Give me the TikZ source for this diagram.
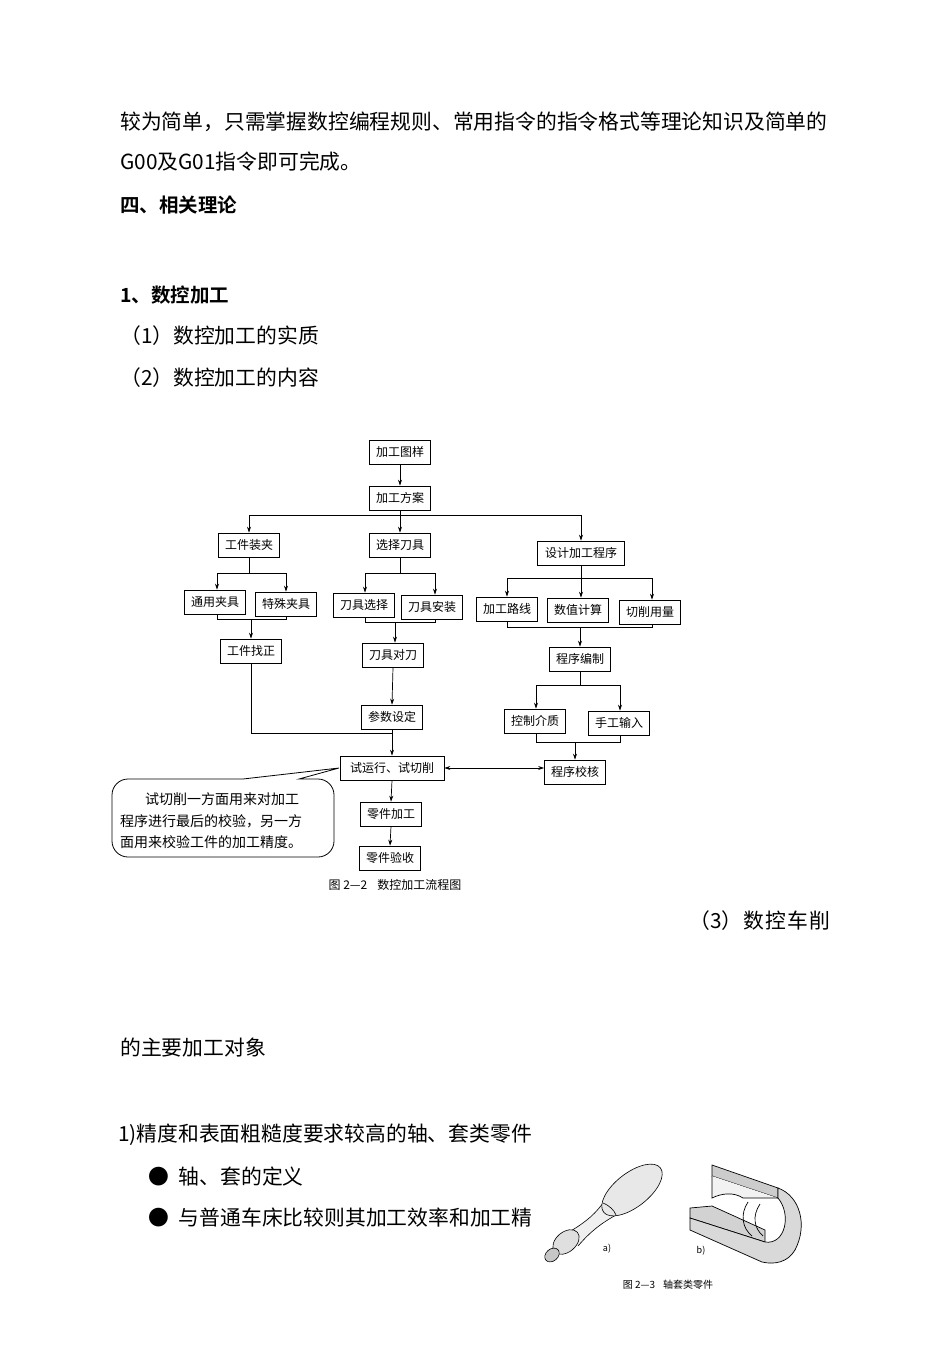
\documentclass[tikz,border=0pt]{standalone}
\usepackage{fontspec}
\setmainfont{Noto Sans CJK SC}
\newfontfamily\cjk{Noto Sans CJK SC}
\newfontfamily\cjkb{Noto Sans CJK SC Bold}
\usetikzlibrary{arrows.meta}
\begin{document}
\begin{tikzpicture}[x=1pt,y=-1pt,
  box/.style={draw,line width=0.7pt,minimum height=24pt,minimum width=61pt,inner sep=1pt,font=\cjk\fontsize{12}{12}\selectfont},
  ln/.style={line width=0.7pt},
  ar/.style={line width=0.7pt,-{Stealth[length=6pt,width=4pt]}},
  body/.style={anchor=west,inner sep=0pt,font=\cjk\fontsize{20.8}{21}\selectfont},
  head/.style={anchor=west,inner sep=0pt,font=\cjkb\fontsize{19.5}{20}\selectfont}]
\useasboundingbox (0,0) rectangle (950,1346);
\fill[white] (0,0) rectangle (950,1346);
% body text
\node[body] (l1) at (120,122) {较为简单，只需掌握数控编程规则、常用指令的指令格式等理论知识及简单的};
\node[body] (l2) at (120,162) {G00及G01指令即可完成。};
\node[head] (l3) at (120,205) {四、相关理论};
\node[head] (l4) at (120,295) {1、数控加工};
\node[body] (l5) at (120,336) {（1）数控加工的实质};
\node[body] (l6) at (120,378) {（2）数控加工的内容};
\node[body,anchor=east] (l7) at (830,921) {（3）\hspace{1pt}数\hspace{1pt}控\hspace{1pt}车\hspace{1pt}削};
\node[body] (l8) at (120,1048) {的主要加工对象};
\node[body] (l9) at (118,1135) {1)精度和表面粗糙度要求较高的轴、套类零件};
\node[body] (b1t) at (148,1177) {●\hspace{10pt}轴、套的定义};
\node[body] (b2t) at (148,1218) {●\hspace{10pt}与普通车床比较则其加工效率和加工精};
% flowchart
\node[box] (t1) at (400,452) {加工图样};
\node[box] (t2) at (400,498) {加工方案};
\node[box] (a1) at (249,545) {工件装夹};
\node[box] (a2) at (400,545) {选择刀具};
\node[box,minimum width=87pt] (a3) at (581,553) {设计加工程序};
\node[box] (b1) at (215,602) {通用夹具};
\node[box] (b2) at (286,604) {特殊夹具};
\node[box] (c1) at (251,651) {工件找正};
\node[box] (d1) at (364,605) {刀具选择};
\node[box] (d2) at (432,607) {刀具安装};
\node[box] (e1) at (393,655) {刀具对刀};
\node[box] (e2) at (392,717) {参数设定};
\node[box] (f1) at (507,609) {加工路线};
\node[box] (f2) at (578,610) {数值计算};
\node[box] (f3) at (650,612) {切削用量};
\node[box] (g1) at (580,659) {程序编制};
\node[box] (h1) at (535,721) {控制介质};
\node[box] (h2) at (619,723) {手工输入};
\node[box] (k) at (575,772) {程序校核};
\node[box,minimum width=104pt] (s) at (392,768) {试运行、试切削};
\node[box] (p1) at (391,814) {零件加工};
\node[box] (p2) at (390,858) {零件验收};
\draw[ar] (t1) -- (t2);
\draw[ln] (t2.south) -- (400,515);
\draw[ln] (249,515) -- (581,515);
\draw[ar] (249,515) -- (a1.north);
\draw[ar] (400,515) -- (a2.north);
\draw[ar] (581,515) -- (a3.north);
% left
\draw[ln] (a1.south) -- (249,573);
\draw[ln] (217,573) -- (286,573);
\draw[ar] (217,573) -- (b1.north -| 217,0);
\draw[ar] (286,573) -- (b2.north);
\draw[ln] (b1.south -| 217,0) -- (217,619) -- (286,619) -- (b2.south);
\draw[ar] (251,619) -- (c1.north);
% middle
\draw[ln] (a2.south) -- (400,573);
\draw[ln] (365,573) -- (435,573);
\draw[ar] (365,573) -- (d1.north -| 365,0);
\draw[ar] (435,573) -- (d2.north -| 435,0);
\draw[ln] (d1.south -| 365,0) -- (365,622) -- (435,622) -- (d2.south -| 435,0);
\draw[ar] (395,622) -- (e1.north -| 395,0);
\draw[ar] (e1.south) -- (e2.north);
\draw[ln] (c1.south) -- (251,733) -- (392,733);
\draw[ar] (e2.south) -- (s.north);
% right
\draw[ln] (a3.south) -- (581,578);
\draw[ln] (507,578) -- (652,578);
\draw[ar] (507,578) -- (f1.north);
\draw[ar] (581,578) -- (f2.north -| 581,0);
\draw[ar] (652,578) -- (f3.north -| 652,0);
\draw[ln] (f1.south) -- (507,627) -- (652,627) -- (f3.south -| 652,0);
\draw[ar] (580,627) -- (g1.north);
\draw[ln] (g1.south) -- (580,685);
\draw[ln] (536,685) -- (620,685);
\draw[ar] (536,685) -- (h1.north -| 536,0);
\draw[ar] (620,685) -- (h2.north -| 620,0);
\draw[ln] (h1.south -| 536,0) -- (536,742) -- (620,742) -- (h2.south -| 620,0);
\draw[ar] (575,742) -- (k.north);
\draw[line width=0.7pt,{Stealth[length=6pt,width=4pt]}-{Stealth[length=6pt,width=4pt]}] (s.east) -- (k.west |- s.east);
\draw[ar] (s.south) -- (p1.north);
\draw[ar] (p1.south) -- (p2.north);
% callout
\coordinate (cp) at (339,768);
\draw[line width=0.8pt] (243,779) [rounded corners=16pt] -- (112,779) -- (112,857) -- (334,857) -- (334,779) [sharp corners] -- (299,779) -- (cp) -- cycle;
\node[anchor=west,inner sep=0pt,font=\cjk\fontsize{14}{14}\selectfont] (c1t) at (145,799) {试切削一方面用来对加工};
\node[anchor=west,inner sep=0pt,font=\cjk\fontsize{14}{14}\selectfont] (c2t) at (120,821) {程序进行最后的校验，另一方};
\node[anchor=west,inner sep=0pt,font=\cjk\fontsize{14}{14}\selectfont] (c3t) at (120,842) {面用来校验工件的加工精度。};
\node[font=\cjk\fontsize{12}{12}\selectfont] (cap) at (395,885) {图 2—2\hspace{10pt}数控加工流程图};
% shaft picture a)
\begin{scope}[line width=0.6pt]
\fill[gray!12] (603,1203) .. controls (592,1218) and (582,1224) .. (566,1234) -- (578,1246) .. controls (590,1232) and (600,1224) .. (616,1215) -- cycle;
\draw (603,1203) .. controls (592,1218) and (582,1224) .. (566,1234);
\draw (616,1215) .. controls (600,1224) and (590,1232) .. (578,1246);
\draw[fill=gray!18,rotate around={38:(632,1190)}] (632,1190) ellipse (36 and 17);
\draw (603,1203) .. controls (610,1206) and (614,1210) .. (616,1215);
\draw[fill=gray!25,rotate around={40:(566,1242)}] (566,1242) ellipse (15 and 10);
\draw[fill=gray!45,rotate around={40:(552,1255)}] (552,1255) ellipse (8 and 6);
\end{scope}
\node[font=\fontsize{9}{9}\selectfont] (la) at (607,1249) {a)};
% sleeve picture b)
\begin{scope}[line width=0.7pt]
\draw[fill=gray!40] (712,1165) -- (778,1188) -- (778,1198) -- (712,1176) -- cycle;
\draw[fill=gray!10] (712,1176) -- (712,1198) .. controls (722,1193) and (734,1192) .. (743,1198) -- (778,1198);
\draw[fill=gray!35] (690,1208) -- (712,1206) -- (765,1230) -- (765,1242) -- (690,1218) -- cycle;
\draw[fill=gray!30] (778,1188) .. controls (800,1196) and (808,1225) .. (795,1250) .. controls (788,1262) and (775,1265) .. (762,1262) -- (690,1230) -- (690,1218) -- (765,1242) .. controls (785,1245) and (792,1215) .. (778,1198) -- cycle;
\draw (748,1202) .. controls (740,1214) and (742,1228) .. (752,1236);
\draw (760,1204) .. controls (752,1216) and (754,1228) .. (763,1236);
\end{scope}
\node[font=\fontsize{9}{9}\selectfont] (lb) at (701,1251) {b)};
\node[font=\cjk\fontsize{10}{10}\selectfont] (cap2) at (668,1285) {图 2—3\hspace{8pt}轴套类零件};
\end{tikzpicture}
\end{document}
